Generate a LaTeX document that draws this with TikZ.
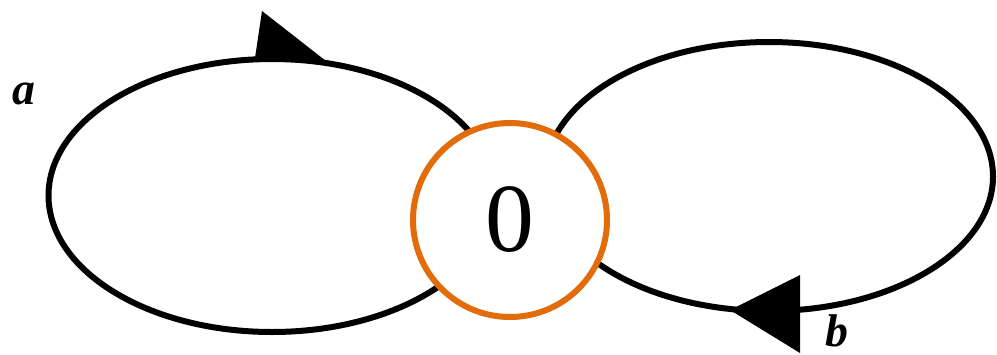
\documentclass[tikz,border=0pt]{standalone}
\usepackage{fontspec}
\setmainfont{Liberation Serif}
\definecolor{loopor}{RGB}{227,108,10}
\tikzset{
  loopline/.style={draw=black, line width=6bp},
  statenode/.style={circle, draw=loopor, line width=6bp, fill=white, minimum size=194bp, inner sep=0pt, font=\fontsize{98}{98}\selectfont},
  tip/.style={fill=black, draw=none},
  lbl/.style={font=\fontsize{46}{46}\selectfont\bfseries\itshape, inner sep=0pt}
}
\begin{document}
\begin{tikzpicture}[x=1bp,y=-1bp]
\useasboundingbox (0,0) rectangle (997,354);
\draw[loopline] (272,195.5) ellipse [x radius=223.5, y radius=136.5];
\draw[loopline] (769,176.5) ellipse [x radius=224, y radius=134.5];
\fill[tip] (255,58) -- (262,11) -- (326,61) -- cycle;
\fill[tip] (730,310) -- (800,275) -- (800,353) -- cycle;
\node[lbl] (la) at (24,94) {a};
\node[statenode] (zero) at (510,220) {0};
\node[lbl] (lb) at (837,331) {b};
\end{tikzpicture}
\end{document}
